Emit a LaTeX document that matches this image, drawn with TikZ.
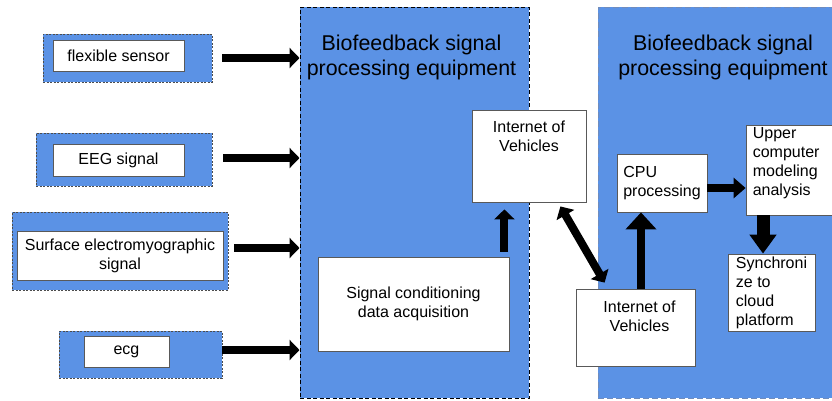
\documentclass[tikz,border=0pt]{standalone}
\usepackage{fontspec}
\setmainfont{Liberation Sans}
\usetikzlibrary{arrows.meta,calc}

\definecolor{panelblue}{RGB}{91,146,229}
\definecolor{panelline}{RGB}{112,140,188}

\tikzset{
  panel/.style={draw=black!70, fill=panelblue, dash pattern=on 2pt off 1.5pt, line width=0.8pt, inner sep=0pt},
  bigpanel/.style={fill=panelblue, line width=1pt, inner sep=0pt},
  card/.style={draw=black!65, fill=white, line width=0.8pt, inner sep=0pt, align=center, font=\fontsize{16}{19}\selectfont},
  cardtext/.style={inner sep=0pt, align=center, font=\fontsize{16}{19}\selectfont},
  headline/.style={inner sep=0pt, align=center, font=\fontsize{21.4}{25}\selectfont},
  fat/.style={line width=8pt, -{Triangle[length=10pt,width=20pt]}},
}

\begin{document}
\begin{tikzpicture}[x=1pt,y=-1pt]
  \useasboundingbox (0,0) rectangle (832,400);
  \clip (0,0) rectangle (832,400);

  % Processing panels
  \node[bigpanel, draw=black, dash pattern=on 4pt off 2.5pt, minimum width=229pt, minimum height=391pt] (big1) at (414.5,202.5) {};
  \node[bigpanel, draw=panelline, dash pattern=on 6pt off 3pt, minimum width=247pt, minimum height=391pt] (big2) at (721.5,202.5) {};
  \node[headline] (title1) at (411.5,57) {Biofeedback signal\\processing equipment};
  \node[headline] (title2) at (723,57) {Biofeedback signal\\processing equipment};

  % Sensor inputs
  \node[panel, minimum width=169pt, minimum height=48pt] (flexout) at (127.5,58) {};
  \node[card, minimum width=131pt, minimum height=31pt] (flex) at (118.5,55.5) {flexible sensor};
  \node[panel, minimum width=176pt, minimum height=53pt] (eegout) at (124,159.5) {};
  \node[card, minimum width=131pt, minimum height=32pt] (eeg) at (118.5,160) {EEG signal};
  \node[panel, minimum width=216pt, minimum height=78pt] (semgout) at (120,251) {};
  \node[card, minimum width=206pt, minimum height=49pt] (semg) at (120,255.5) {Surface electromyographic\\signal};
  \node[panel, minimum width=163pt, minimum height=47pt] (ecgout) at (140.5,354.5) {};
  \node[card, minimum width=85pt, minimum height=31pt] (ecg) at (126.5,351.5) {ecg};

  % Inputs into the first panel
  \draw[fat] ([xshift=10pt]flexout.east) -- (flexout.east -| big1.west);
  \draw[fat] ([xshift=11pt,yshift=1.5pt]eegout.east) -- ([yshift=1.5pt]eegout.east -| big1.west);
  \draw[fat] ([xshift=6pt,yshift=3pt]semgout.east) -- ([yshift=3pt]semgout.east -| big1.west);
  \draw[fat] ([yshift=4.5pt]ecgout.east) -- ([yshift=4.5pt]ecgout.east -| big1.west);

  % First panel
  \node[card, minimum width=191pt, minimum height=94pt] (sig) at (413.5,304) {Signal conditioning\\data acquisition};
  \node[card, minimum width=114pt, minimum height=92pt] (iov1) at (529,156) {};
  \node[cardtext, anchor=north] (iov1txt) at ([yshift=-11pt]iov1.north) {Internet of\\Vehicles};
  \draw[fat, shorten <=5pt, shorten >=7pt] ([xshift=-5pt]sig.north east) -- ([xshift=-5pt]sig.north east |- iov1.south);

  % Second panel
  \node[card, minimum width=119pt, minimum height=77pt] (iov2) at (635.5,327.5) {};
  \node[cardtext, anchor=north] (iov2txt) at ([xshift=4pt,yshift=-12pt]iov2.north) {Internet of\\Vehicles};
  \node[card, align=left, minimum width=90pt, minimum height=58pt] (cpu) at (662,183) {CPU\\processing};
  \node[card, minimum width=100pt, minimum height=90pt] (upper) at (796,170) {};
  \node[cardtext, align=left, anchor=north west] (uppertxt) at ([xshift=7pt,yshift=-3pt]upper.north west) {Upper\\computer\\modeling\\analysis};
  \node[card, align=left, minimum width=87pt, minimum height=77pt] (sync) at (771.5,292.5) {Synchroni\\ze to\\cloud\\platform};

  \draw[fat, {Triangle[length=10pt,width=20pt]}-{Triangle[length=10pt,width=20pt]}]
    ($(iov1.south east)+(-26,4)$) -- ($(iov2.north west)+(29,-6)$);
  \draw[fat, -{Triangle[length=17pt,width=30pt]}] ([xshift=5.5pt]iov2.north) -- ([xshift=5.5pt]iov2.north |- cpu.south);
  \draw[fat, -{Triangle[length=12pt,width=20pt]}] ([yshift=-5pt]cpu.east) -- ([yshift=-5pt]cpu.east -| upper.west);
  \draw[fat, line width=13pt, -{Triangle[length=19pt,width=26pt]}] ([xshift=-33pt]upper.south) -- ([xshift=-33pt]upper.south |- sync.north);
\end{tikzpicture}
\end{document}
